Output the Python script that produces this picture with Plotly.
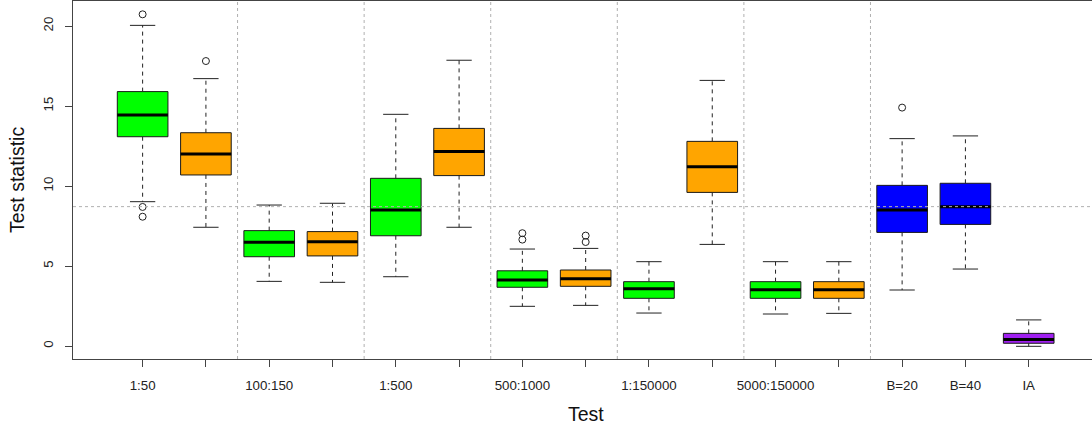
import plotly.graph_objects as go

# ---- data ----
tick_labels = ["1:50", "", "100:150", "", "1:500", "", "500:1000", "",
               "1:150000", "", "5000:150000", "", "B=20", "B=40", "IA"]
q1 = [13.08, 10.69, 5.58, 5.63, 6.89, 10.65, 3.67, 3.73, 2.98, 9.60, 2.98, 2.98, 7.10, 7.60, 0.17]
median = [14.44, 12.00, 6.48, 6.52, 8.50, 12.15, 4.13, 4.21, 3.58, 11.21, 3.52, 3.52, 8.50, 8.71, 0.40]
q3 = [15.90, 13.33, 7.21, 7.15, 10.48, 13.60, 4.70, 4.75, 4.02, 12.79, 4.02, 4.02, 10.04, 10.17, 0.79]
whisk_lo = [9.02, 7.42, 4.04, 3.98, 4.33, 7.42, 2.48, 2.54, 2.06, 6.35, 2.00, 2.04, 3.50, 4.81, -0.02]
whisk_hi = [20.04, 16.71, 8.81, 8.92, 14.48, 17.86, 6.06, 6.10, 5.27, 16.60, 5.27, 5.27, 12.96, 13.13, 1.63]
outliers = [[20.73, 8.69, 8.08], [17.81], [], [], [], [], [7.05, 6.65], [6.90, 6.50],
            [], [], [], [], [14.90], [], []]
group_breaks = [2.5, 4.5, 6.5, 8.5, 10.5, 12.5]
ref_level = 8.71

# ---- styles ----
colors = ["#00FF00", "#FFA500", "#00FF00", "#FFA500", "#00FF00", "#FFA500", "#00FF00", "#FFA500",
          "#00FF00", "#FFA500", "#00FF00", "#FFA500", "#0000FF", "#0000FF", "#A020F0"]
BW = 0.4      # half box width
CW = 0.2      # half staple width
FONT = "Liberation Sans, Arial, sans-serif"
TICK_SIZE = 13.3

positions = list(range(1, len(q1) + 1))
fig = go.Figure()

# boxes
for x, a, b, c in zip(positions, q1, q3, colors):
    fig.add_trace(go.Scatter(
        x=[x - BW, x + BW, x + BW, x - BW, x - BW], y=[a, a, b, b, a],
        mode="lines", fill="toself", fillcolor=c,
        line=dict(color="#1a1a1a", width=1), hoverinfo="skip", showlegend=False))

# whiskers (dashed)
wx, wy = [], []
for x, a, b, lo, hi in zip(positions, q1, q3, whisk_lo, whisk_hi):
    wx += [x, x, None, x, x, None]
    wy += [b, hi, None, a, lo, None]
fig.add_trace(go.Scatter(x=wx, y=wy, mode="lines",
                         line=dict(color="#222", width=1, dash="4px,4px"),
                         hoverinfo="skip", showlegend=False))

# staples
sx, sy = [], []
for x, lo, hi in zip(positions, whisk_lo, whisk_hi):
    sx += [x - CW, x + CW, None, x - CW, x + CW, None]
    sy += [hi, hi, None, lo, lo, None]
fig.add_trace(go.Scatter(x=sx, y=sy, mode="lines",
                         line=dict(color="#222", width=1),
                         hoverinfo="skip", showlegend=False))

# medians
mx, my = [], []
for x, m in zip(positions, median):
    mx += [x - BW, x + BW, None]
    my += [m, m, None]
fig.add_trace(go.Scatter(x=mx, y=my, mode="lines",
                         line=dict(color="#000", width=3),
                         hoverinfo="skip", showlegend=False))

# outliers
ox, oy = [], []
for x, outs in zip(positions, outliers):
    for v in outs:
        ox.append(x)
        oy.append(v)
fig.add_trace(go.Scatter(x=ox, y=oy, mode="markers",
                         marker=dict(symbol="circle-open", size=7, color="#222",
                                     line=dict(width=1)),
                         hoverinfo="skip", showlegend=False))

# dotted reference lines (drawn above the boxes)
for v in group_breaks:
    fig.add_shape(type="line", xref="x", yref="paper", x0=v, x1=v, y0=0, y1=1,
                  line=dict(color="#b0b0b0", width=1, dash="dot"), layer="above")
fig.add_shape(type="line", xref="paper", yref="y", x0=0, x1=1, y0=ref_level, y1=ref_level,
              line=dict(color="#b0b0b0", width=1, dash="dot"), layer="above")

fig.update_layout(
    width=1092, height=427,
    margin=dict(l=73, r=0, t=1, b=68),
    paper_bgcolor="white", plot_bgcolor="white",
    font=dict(family=FONT, color="#222", size=TICK_SIZE),
    showlegend=False,
    xaxis=dict(range=[-0.1, 16.0], tickmode="array", tickvals=positions, ticktext=tick_labels,
               showgrid=False, zeroline=False, showline=True, linecolor="#444", linewidth=1,
               mirror=True, ticks="outside", ticklen=7, tickcolor="#444",
               ticklabelstandoff=7, tickfont=dict(size=TICK_SIZE, family=FONT, color="#222")),
    yaxis=dict(range=[-0.8125, 21.5625], tickmode="array", tickvals=[0, 5, 10, 15, 20],
               ticktext=["0", "5", "10", "15", "20"], tickangle=-90,
               showgrid=False, zeroline=False, showline=True, linecolor="#444", linewidth=1,
               ticks="outside", ticklen=7, tickcolor="#444",
               ticklabelstandoff=7, tickfont=dict(size=TICK_SIZE, family=FONT, color="#222")),
    annotations=[
        dict(text="Test", xref="paper", yref="paper", x=0.503, y=0, xanchor="center",
             yanchor="middle", yshift=-55, showarrow=False,
             font=dict(size=19.5, family=FONT, color="#111")),
        dict(text="Test statistic", xref="paper", yref="paper", x=0, y=0.5, xanchor="center",
             yanchor="middle", xshift=-56, textangle=-90, showarrow=False,
             font=dict(size=19.5, family=FONT, color="#111")),
    ],
)

fig.write_html("out.html", config={"displayModeBar": False},
               post_script="document.body.style.margin='0';document.body.style.overflow='hidden';")
